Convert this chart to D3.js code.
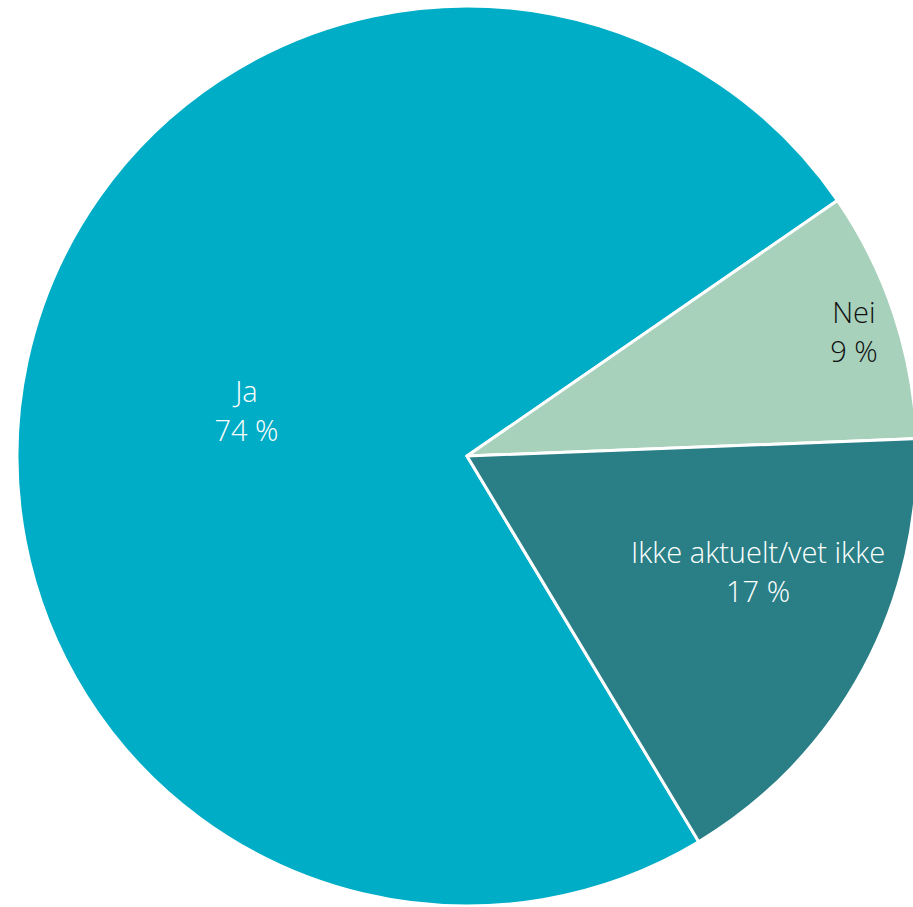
<!DOCTYPE html>
<html><head><meta charset="utf-8">
<script src="https://cdn.jsdelivr.net/npm/d3@7"></script>
<style>html,body{margin:0;padding:0;background:#fff;overflow:hidden}</style>
</head><body>
<svg id="c" width="913" height="907"></svg>
<script>
const categories = ["Ja", "Nei", "Ikke aktuelt/vet ikke"];
const values = [74, 9, 17];
const labels = ["74 %", "9 %", "17 %"];
const colors = ["#00ADC6", "#A8D1BC", "#2A7F86"];
const textColors = ["#ffffff", "#111111", "#ffffff"];
// label placement: [radius fraction, angle offset in degrees]
const labelPlace = [[0.5, -0.8], [0.902, 0.8], [0.697, -6.5]];

const svg = d3.select("#c");
const cx = 467, cy = 456, R = 450;
const g = svg.append("g").attr("transform", `translate(${cx},${cy})`);
const start = 149 * Math.PI / 180;
const pie = d3.pie().sort(null).value(d => d).startAngle(start).endAngle(start + 2 * Math.PI);
const arcs = pie(values);
const arc = d3.arc().innerRadius(0).outerRadius(R);

g.selectAll("path").data(arcs).join("path")
  .attr("d", arc)
  .attr("fill", (d, i) => colors[i])
  .attr("stroke", "#fff")
  .attr("stroke-width", 3)
  .attr("stroke-linejoin", "round");

const lg = g.selectAll("g.lbl").data(arcs).join("g").attr("class", "lbl")
  .attr("transform", (d, i) => {
    const a = (d.startAngle + d.endAngle) / 2 + labelPlace[i][1] * Math.PI / 180;
    const r = R * labelPlace[i][0];
    return `translate(${r * Math.sin(a)},${-r * Math.cos(a)})`;
  });
const font = t => t.attr("text-anchor", "middle")
  .attr("fill", (d, i) => textColors[i])
  .style("font-family", "'Open Sans', sans-serif")
  .style("font-weight", 300)
  .style("font-size", "29px");
lg.append("text").call(font).attr("y", -10).text((d, i) => categories[i]);
lg.append("text").call(font).attr("y", 29).text((d, i) => labels[i]);
</script>
</body></html>
